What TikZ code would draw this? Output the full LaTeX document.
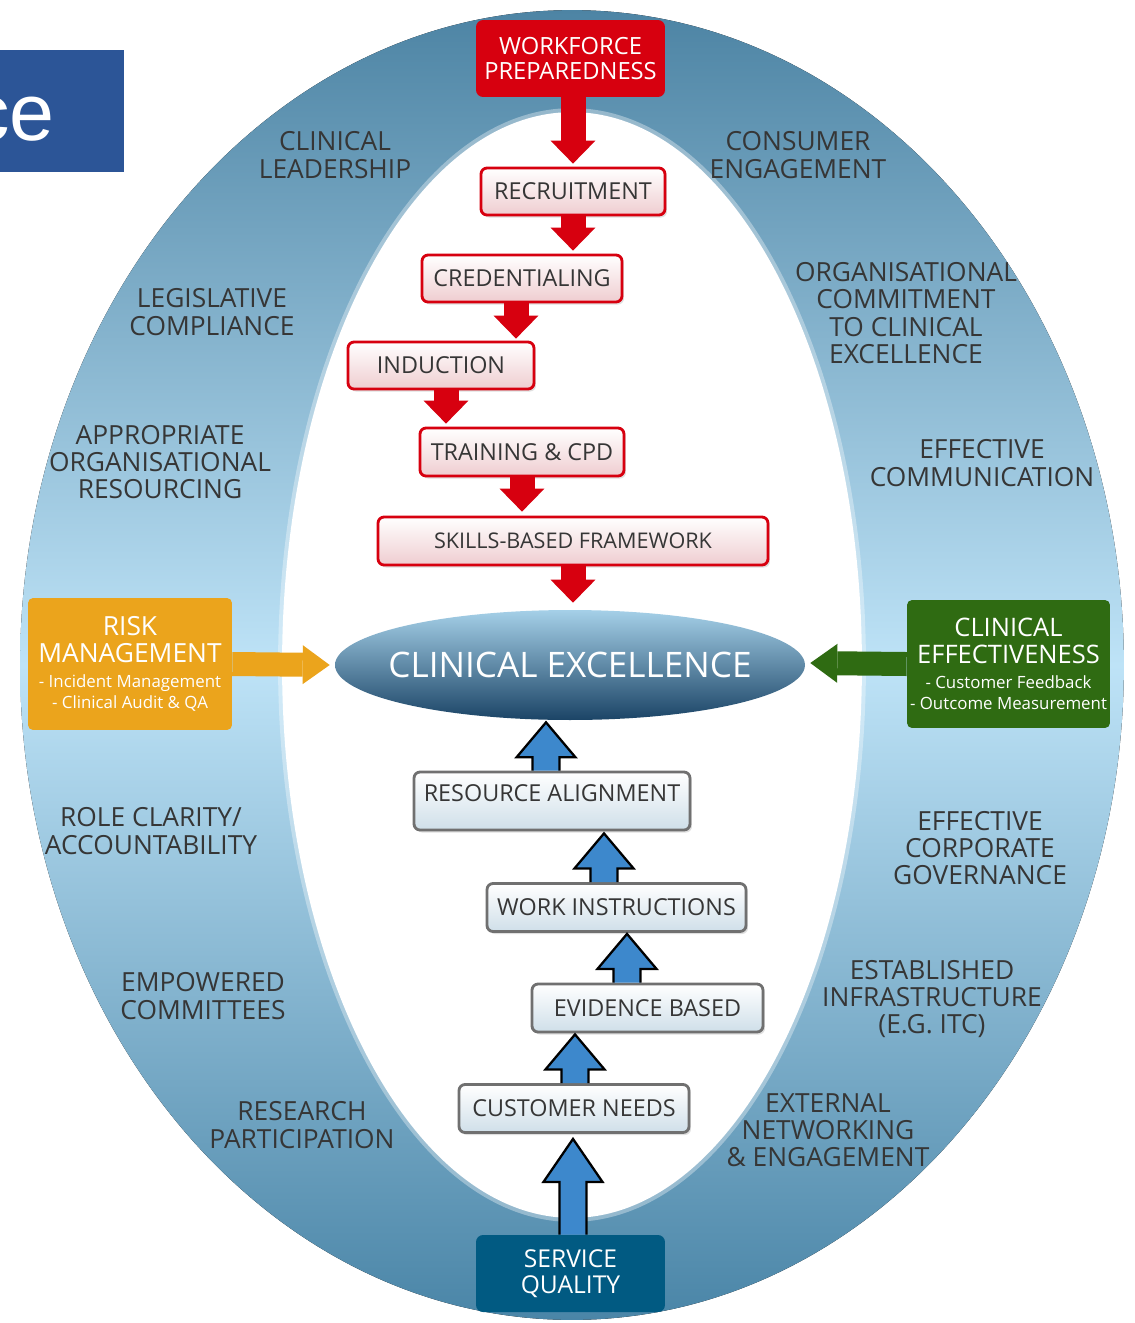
\documentclass[tikz,border=0pt]{standalone}
\usepackage{fontspec}
\setmainfont{Open Sans}
\setsansfont{Liberation Sans}
\usetikzlibrary{arrows.meta,calc,shapes.geometric,shadows}

\definecolor{ringtop}{HTML}{4D84A4}
\definecolor{ringmid}{HTML}{BEE3F7}
\definecolor{ringbot}{HTML}{4A85A7}
\definecolor{labelgray}{HTML}{363636}
\definecolor{wfred}{HTML}{D7000F}
\definecolor{boxpink}{HTML}{EFCDD0}
\definecolor{boxgray}{HTML}{707070}
\definecolor{boxice}{HTML}{CFDFE9}
\definecolor{riskorange}{HTML}{EBA41C}
\definecolor{effgreen}{HTML}{2F6B12}
\definecolor{sqblue}{HTML}{015A82}
\definecolor{flowblue}{HTML}{3D88CC}
\definecolor{cetop}{HTML}{A5D0E8}
\definecolor{cebot}{HTML}{1B4466}
\definecolor{titleblue}{HTML}{2C5597}

\tikzset{
  ringlabel/.style={text=labelgray,align=center,font=\fontsize{15}{15.5}\selectfont},
  stepshadow/.style={drop shadow={opacity=0.25,shadow xshift=0.04cm,shadow yshift=-0.05cm}},
  redbox/.style={draw=wfred,line width=1.6pt,rounded corners=0.12cm,top color=white,
    bottom color=boxpink,text=labelgray,inner sep=0pt,minimum height=0.94cm,
    font=\fontsize{13.3}{14}\selectfont,stepshadow},
  graybox/.style={draw=boxgray,line width=1.6pt,rounded corners=0.12cm,top color=white,
    bottom color=boxice,text=labelgray,inner sep=0pt,minimum height=0.96cm,
    font=\fontsize{13.3}{14}\selectfont,stepshadow},
  solidbox/.style={rounded corners=0.14cm,text=white,align=center,inner sep=0pt},
  redflow/.style={wfred,line width=0.5cm,-{Triangle[width=0.9cm,length=0.46cm,line width=0pt]}},
  sideflow/.style={line width=0.48cm,-{Triangle[width=0.78cm,length=0.54cm,line width=0pt]}},
  upflow/.style={fill=flowblue,draw=black,line width=1.3pt,line join=miter},
}

% outlined up arrow: #1 head length, #2 start point, #3 tip point
\newcommand{\upflowarrow}[3][0.7cm]{%
  \draw[upflow] let \p1=#2, \p2=#3 in
    (\x1-0.27cm,\y1) -- (\x1-0.27cm,\y2-#1) -- (\x1-0.59cm,\y2-#1) -- (\x1,\y2)
    -- (\x1+0.59cm,\y2-#1) -- (\x1+0.27cm,\y2-#1) -- (\x1+0.27cm,\y1);}

\begin{document}
\begin{tikzpicture}[x=0.02cm,y=-0.02cm]
\useasboundingbox (0,0) rectangle (1134,1323);

% ring
\fill[top color=ringtop,bottom color=ringbot,middle color=ringmid]
  (572,665) ellipse [x radius=11.04cm,y radius=13.1cm];
\fill[white] (572,665) ellipse [x radius=5.8cm,y radius=11.06cm];
\draw[white,opacity=0.35,line width=0.12cm] (572,665) ellipse [x radius=5.82cm,y radius=11.08cm];

% title fragment
\fill[titleblue] (0,50) rectangle (124,172);
\node[anchor=base east,text=white,inner sep=0pt,font=\sffamily\fontsize{46}{46}\selectfont]
  (title) at (55,140) {ce};

% ring labels
\node[ringlabel] (lead) at (335,155) {CLINICAL\\LEADERSHIP};
\node[ringlabel] (cons) at (798,155) {CONSUMER\\ENGAGEMENT};
\node[ringlabel] (legi) at (212,312) {LEGISLATIVE\\COMPLIANCE};
\node[ringlabel] (orgc) at (906,313) {ORGANISATIONAL\\COMMITMENT\\TO CLINICAL\\EXCELLENCE};
\node[ringlabel] (reso) at (160,462) {APPROPRIATE\\ORGANISATIONAL\\RESOURCING};
\node[ringlabel] (comm) at (982,463) {EFFECTIVE\\COMMUNICATION};
\node[ringlabel] (role) at (151,831) {ROLE CLARITY/\\ACCOUNTABILITY};
\node[ringlabel] (gove) at (980,848) {EFFECTIVE\\CORPORATE\\GOVERNANCE};
\node[ringlabel] (empo) at (203,996) {EMPOWERED\\COMMITTEES};
\node[ringlabel] (infr) at (932,999) {ESTABLISHED\\INFRASTRUCTURE\\(E.G. ITC)};
\node[ringlabel] (rese) at (302,1125) {RESEARCH\\PARTICIPATION};
\node[ringlabel] (netw) at (828,1130) {EXTERNAL\\NETWORKING\\\& ENGAGEMENT};

% workforce chain
\node[solidbox,fill=wfred,minimum width=3.78cm,minimum height=1.54cm,
  font=\fontsize{13.5}{14.7}\selectfont] (wp) at (570.5,58.5) {WORKFORCE\\PREPAREDNESS};
\node[redbox,minimum width=3.68cm] (rec) at (573,191.5) {RECRUITMENT};
\node[redbox,minimum width=4.0cm] (cred) at (522,278.5) {CREDENTIALING};
\node[redbox,minimum width=3.72cm] (ind) at (441,365.5) {INDUCTION};
\node[redbox,minimum width=4.08cm,minimum height=0.96cm] (tcpd) at (522,452) {TRAINING \& CPD};
\node[redbox,minimum width=7.8cm,minimum height=0.96cm,font=\fontsize{12.3}{13}\selectfont]
  (sbf) at (573,541) {SKILLS-BASED FRAMEWORK};

% centre
\node[ellipse,inner sep=0pt,minimum width=9.4cm,minimum height=2.2cm,top color=cetop,
  bottom color=cebot,text=white,font=\fontsize{20}{21}\selectfont] (ce) at (570,665)
  {\makebox[0pt]{CLINICAL EXCELLENCE}};

% side boxes
\node[solidbox,fill=riskorange,rounded corners=0.1cm,minimum width=4.08cm,minimum height=2.64cm,
  font=\fontsize{15}{15.3}\selectfont] (risk) at (130,664)
  {RISK\\MANAGEMENT\\[-1pt]
  {\fontsize{9.6}{12}\selectfont - Incident Management}\\[-3pt]
  {\fontsize{9.6}{12}\selectfont - Clinical Audit \& QA}};
\node[solidbox,fill=effgreen,rounded corners=0.1cm,minimum width=4.06cm,minimum height=2.56cm,
  font=\fontsize{14.5}{15.3}\selectfont] (ceff) at (1008.5,664)
  {CLINICAL\\EFFECTIVENESS\\[-1pt]
  {\fontsize{9.6}{12}\selectfont - Customer Feedback}\\[-3pt]
  {\fontsize{9.6}{12}\selectfont - Outcome Measurement}};

% quality chain
\node[graybox,minimum width=5.52cm,minimum height=1.16cm,text depth=0.3cm] (ra) at (552,801) {RESOURCE ALIGNMENT};
\node[graybox,minimum width=5.18cm] (wi) at (616.5,907.5) {WORK INSTRUCTIONS};
\node[graybox,minimum width=4.62cm] (eb) at (647.5,1008) {EVIDENCE BASED};
\node[graybox,minimum width=4.6cm] (cn) at (574,1108.5) {CUSTOMER NEEDS};
\node[solidbox,fill=sqblue,minimum width=3.78cm,minimum height=1.54cm,
  font=\fontsize{14}{14.7}\selectfont] (sq) at (570.5,1273.5) {SERVICE\\QUALITY};

% red arrows down
\draw[redflow] ($(rec.north |- wp.south)$) -- ($(rec.north)+(0,-3)$);
\draw[redflow] (rec.south) -- ($(cred.north)+(51,-3)$);
\draw[redflow] ($(cred.south)+(-6,0)$) -- ($(ind.north)+(75,-2)$);
\draw[redflow] ($(ind.south)+(5,0)$) -- ($(tcpd.north)+(-76,-3)$);
\draw[redflow] (tcpd.south) -- ($(sbf.north)+(-51,-4)$);
\draw[redflow] (sbf.south) -- ($(ce.north)+(3,-7)$);

% side arrows
\draw[sideflow,riskorange] (risk.east) -- ($(ce.west)+(-5,0)$);
\draw[sideflow,effgreen] (ceff.west) -- ($(ce.east)+(5,-2)$);

% blue arrows up
\upflowarrow{($(ra.north)+(-6,0)$)}{($(ce.south)+(-24,2)$)}
\upflowarrow{($(wi.north)+(-12.5,0)$)}{($(ra.south)+(52,2)$)}
\upflowarrow{($(eb.north)+(-20.5,0)$)}{($(wi.south)+(10.5,1)$)}
\upflowarrow{($(cn.north)+(1,0)$)}{($(eb.south)+(-72.5,1)$)}
\upflowarrow[0.86cm]{($(sq.north)+(2.5,0)$)}{($(cn.south)+(-1,5)$)}
\end{tikzpicture}
\end{document}
